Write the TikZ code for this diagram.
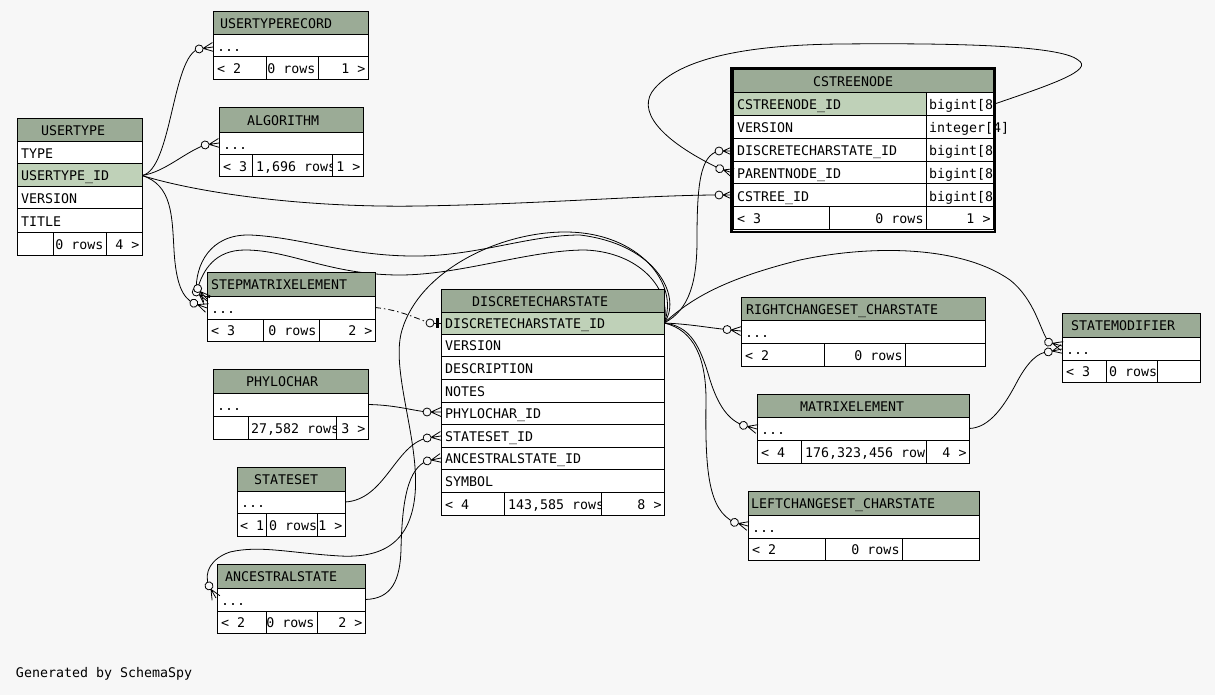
\documentclass[tikz,border=0pt]{standalone}
\usepackage{fontspec}
\setmainfont{DejaVu Sans Mono}
\definecolor{bgc}{HTML}{F7F7F7}
\definecolor{hdr}{HTML}{9BAB96}
\definecolor{pkc}{HTML}{BFD1B8}
\pgfdeclarelayer{bgl}
\pgfdeclarelayer{conn}
\pgfsetlayers{bgl,conn,main}
\tikzset{
  cellbox/.style={draw=black, line width=1pt, inner sep=0pt, outer sep=0pt},
  celltext/.style={inner sep=0pt, outer sep=0pt, font=\fontsize{13.3}{16}\selectfont},
  link/.style={line width=0.8pt, black},
  implied/.style={line width=0.8pt, black, dash pattern=on 6pt off 3pt on 1.5pt off 3pt},
}
\newcommand\mkcell[6]{\node[cellbox, fill=#6, minimum width={(#4-#2)*1pt}, minimum height={(#5-#3)*1pt}, anchor=north west] (#1) at (#2,#3) {};}
\newcommand\tabL[3][4]{\begin{scope}\clip (#2.south west) rectangle (#2.north east);\node[celltext, anchor=base west] (#2-tx) at ([xshift=#1pt,yshift=-5.5pt]#2.west) {#3};\end{scope}}
\newcommand\tabR[2]{\begin{scope}\clip (#1.south west) rectangle (#1.north east);\node[celltext, anchor=base east] (#1-tx) at ([xshift=-2.5pt,yshift=-5.5pt]#1.east) {#2};\end{scope}}
\newcommand\crow[3]{\begin{scope}[shift={(#2)}, rotate=#3]
  \draw[line width=0.8pt] (-10,0) -- (0,-4.5) (-10,0) -- (0,0) (-10,0) -- (0,4.5);
  \draw[line width=0.8pt, fill=bgc] (-14,0) circle (4pt);
  \coordinate (#1) at (-14,0);
\end{scope}}
\newcommand\onez[3]{\begin{scope}[shift={(#2)}, rotate=#3]
  \draw[line width=0.8pt] (-7,0) -- (0,0);
  \draw[line width=2.5pt] (-3.5,-5) -- (-3.5,5);
  \draw[line width=0.8pt, fill=bgc] (-11,0) circle (4pt);
  \coordinate (#1) at (-11,0);
\end{scope}}
\begin{document}
\begin{tikzpicture}[x=1pt,y=-1pt]
\useasboundingbox (0,0) rectangle (1215,695);
\begin{pgfonlayer}{bgl}
\fill[bgc] (0,0) rectangle (1215,695);
\end{pgfonlayer}

% USERTYPERECORD
\mkcell{utr-h}{213}{12}{368}{35}{hdr}
\mkcell{utr-r}{213}{35}{368}{57}{white}
\mkcell{utr-f1}{213}{57}{266}{80}{white}
\mkcell{utr-f2}{266}{57}{318}{80}{white}
\mkcell{utr-f3}{318}{57}{368}{80}{white}
\tabL[7]{utr-h}{USERTYPERECORD}
\tabL{utr-r}{...}
\tabL{utr-f1}{< 2}
\tabR{utr-f2}{0 rows}
\tabR{utr-f3}{1 >}

% ALGORITHM
\mkcell{alg-h}{219}{108}{363}{133}{hdr}
\mkcell{alg-r}{219}{133}{363}{155}{white}
\mkcell{alg-f1}{219}{155}{252}{177}{white}
\mkcell{alg-f2}{252}{155}{332}{177}{white}
\mkcell{alg-f3}{332}{155}{363}{177}{white}
\tabL[28]{alg-h}{ALGORITHM}
\tabL{alg-r}{...}
\tabL{alg-f1}{< 3}
\tabL{alg-f2}{1,696 rows}
\tabR{alg-f3}{1 >}

% USERTYPE
\mkcell{ut-h}{17}{119}{142}{142}{hdr}
\mkcell{ut-ty}{17}{142}{142}{164}{white}
\mkcell{ut-id}{17}{164}{142}{187}{pkc}
\mkcell{ut-ve}{17}{187}{142}{209}{white}
\mkcell{ut-ti}{17}{209}{142}{232}{white}
\mkcell{ut-f1}{17}{232}{53}{255}{white}
\mkcell{ut-f2}{53}{232}{106}{255}{white}
\mkcell{ut-f3}{106}{232}{142}{255}{white}
\tabL[24]{ut-h}{USERTYPE}
\tabL{ut-ty}{TYPE}
\tabL{ut-id}{USERTYPE\_ID}
\tabL{ut-ve}{VERSION}
\tabL{ut-ti}{TITLE}
\tabR{ut-f2}{0 rows}
\tabR{ut-f3}{4 >}

% CSTREENODE
\mkcell{cst-h}{733}{70}{993}{93}{hdr}
\mkcell{cst-id}{733}{93}{926}{116}{pkc}
\mkcell{cst-idty}{926}{93}{993}{116}{white}
\mkcell{cst-ve}{733}{116}{926}{139}{white}
\mkcell{cst-vety}{926}{116}{993}{139}{white}
\mkcell{cst-dc}{733}{139}{926}{162}{white}
\mkcell{cst-dcty}{926}{139}{993}{162}{white}
\mkcell{cst-pn}{733}{162}{926}{184}{white}
\mkcell{cst-pnty}{926}{162}{993}{184}{white}
\mkcell{cst-cs}{733}{184}{926}{207}{white}
\mkcell{cst-csty}{926}{184}{993}{207}{white}
\mkcell{cst-f1}{733}{207}{829}{229}{white}
\mkcell{cst-f2}{829}{207}{926}{229}{white}
\mkcell{cst-f3}{926}{207}{993}{229}{white}
\tabL[80]{cst-h}{CSTREENODE}
\tabL{cst-id}{CSTREENODE\_ID}
\tabL[3]{cst-idty}{bigint[8]}
\tabL{cst-ve}{VERSION}
\node[celltext, anchor=base west] (cst-vety-tx) at ([xshift=3pt,yshift=-5.5pt]cst-vety.west) {integer[4]};
\tabL{cst-dc}{DISCRETECHARSTATE\_ID}
\tabL[3]{cst-dcty}{bigint[8]}
\tabL{cst-pn}{PARENTNODE\_ID}
\tabL[3]{cst-pnty}{bigint[8]}
\tabL{cst-cs}{CSTREE\_ID}
\tabL[3]{cst-csty}{bigint[8]}
\tabL{cst-f1}{< 3}
\tabR{cst-f2}{0 rows}
\tabR{cst-f3}{1 >}
\draw[line width=2.5pt] (731.5,68.5) rectangle (995,232);

% STEPMATRIXELEMENT
\mkcell{sme-h}{207}{272}{375}{296}{hdr}
\mkcell{sme-r}{207}{296}{375}{319}{white}
\mkcell{sme-f1}{207}{319}{263}{341}{white}
\mkcell{sme-f2}{263}{319}{319}{341}{white}
\mkcell{sme-f3}{319}{319}{375}{341}{white}
\tabL[4]{sme-h}{STEPMATRIXELEMENT}
\tabL{sme-r}{...}
\tabL{sme-f1}{< 3}
\tabR{sme-f2}{0 rows}
\tabR{sme-f3}{2 >}

% DISCRETECHARSTATE
\mkcell{dcs-h}{441}{289}{664}{312}{hdr}
\mkcell{dcs-id}{441}{312}{664}{334}{pkc}
\mkcell{dcs-ve}{441}{334}{664}{356}{white}
\mkcell{dcs-de}{441}{356}{664}{379}{white}
\mkcell{dcs-no}{441}{379}{664}{402}{white}
\mkcell{dcs-pc}{441}{402}{664}{424}{white}
\mkcell{dcs-ss}{441}{424}{664}{447}{white}
\mkcell{dcs-an}{441}{447}{664}{469}{white}
\mkcell{dcs-sy}{441}{469}{664}{492}{white}
\mkcell{dcs-f1}{441}{492}{504}{515}{white}
\mkcell{dcs-f2}{504}{492}{601}{515}{white}
\mkcell{dcs-f3}{601}{492}{664}{515}{white}
\tabL[31]{dcs-h}{DISCRETECHARSTATE}
\tabL{dcs-id}{DISCRETECHARSTATE\_ID}
\tabL{dcs-ve}{VERSION}
\tabL{dcs-de}{DESCRIPTION}
\tabL{dcs-no}{NOTES}
\tabL{dcs-pc}{PHYLOCHAR\_ID}
\tabL{dcs-ss}{STATESET\_ID}
\tabL{dcs-an}{ANCESTRALSTATE\_ID}
\tabL{dcs-sy}{SYMBOL}
\tabL{dcs-f1}{< 4}
\tabL{dcs-f2}{143,585 rows}
\tabR{dcs-f3}{8 >}

% PHYLOCHAR
\mkcell{pc-h}{213}{369}{368}{393}{hdr}
\mkcell{pc-r}{213}{393}{368}{416}{white}
\mkcell{pc-f1}{213}{416}{248}{439}{white}
\mkcell{pc-f2}{248}{416}{336}{439}{white}
\mkcell{pc-f3}{336}{416}{368}{439}{white}
\tabL[33]{pc-h}{PHYLOCHAR}
\tabL{pc-r}{...}
\tabL[3]{pc-f2}{27,582 rows}
\tabR{pc-f3}{3 >}

% STATESET
\mkcell{ss-h}{237}{467}{345}{491}{hdr}
\mkcell{ss-r}{237}{491}{345}{513}{white}
\mkcell{ss-f1}{237}{513}{266}{536}{white}
\mkcell{ss-f2}{266}{513}{317}{536}{white}
\mkcell{ss-f3}{317}{513}{345}{536}{white}
\tabL[17]{ss-h}{STATESET}
\tabL{ss-r}{...}
\tabL[3]{ss-f1}{< 1}
\tabL[3]{ss-f2}{0 rows}
\tabR{ss-f3}{1 >}

% ANCESTRALSTATE
\mkcell{anc-h}{217}{564}{365}{588}{hdr}
\mkcell{anc-r}{217}{588}{365}{611}{white}
\mkcell{anc-f1}{217}{611}{266}{633}{white}
\mkcell{anc-f2}{266}{611}{317}{633}{white}
\mkcell{anc-f3}{317}{611}{365}{633}{white}
\tabL[8]{anc-h}{ANCESTRALSTATE}
\tabL{anc-r}{...}
\tabL{anc-f1}{< 2}
\tabR{anc-f2}{0 rows}
\tabR{anc-f3}{2 >}

% RIGHTCHANGESET_CHARSTATE
\mkcell{rcs-h}{741}{297}{985}{320}{hdr}
\mkcell{rcs-r}{741}{320}{985}{343}{white}
\mkcell{rcs-f1}{741}{343}{824}{366}{white}
\mkcell{rcs-f2}{824}{343}{905}{366}{white}
\mkcell{rcs-f3}{905}{343}{985}{366}{white}
\tabL[5]{rcs-h}{RIGHTCHANGESET\_CHARSTATE}
\tabL{rcs-r}{...}
\tabL{rcs-f1}{< 2}
\tabR{rcs-f2}{0 rows}

% MATRIXELEMENT
\mkcell{me-h}{757}{394}{969}{417}{hdr}
\mkcell{me-r}{757}{417}{969}{440}{white}
\mkcell{me-f1}{757}{440}{801}{463}{white}
\mkcell{me-f2}{801}{440}{926}{463}{white}
\mkcell{me-f3}{926}{440}{969}{463}{white}
\tabL[43]{me-h}{MATRIXELEMENT}
\tabL{me-r}{...}
\tabL{me-f1}{< 4}
\tabL{me-f2}{176,323,456 rows}
\tabR{me-f3}{4 >}

% LEFTCHANGESET_CHARSTATE
\mkcell{lcs-h}{748}{491}{979}{515}{hdr}
\mkcell{lcs-r}{748}{515}{979}{538}{white}
\mkcell{lcs-f1}{748}{538}{825}{560}{white}
\mkcell{lcs-f2}{825}{538}{902}{560}{white}
\mkcell{lcs-f3}{902}{538}{979}{560}{white}
\tabL[3]{lcs-h}{LEFTCHANGESET\_CHARSTATE}
\tabL{lcs-r}{...}
\tabL{lcs-f1}{< 2}
\tabR{lcs-f2}{0 rows}

% STATEMODIFIER
\mkcell{sm-h}{1062}{313}{1200}{337}{hdr}
\mkcell{sm-r}{1062}{337}{1200}{360}{white}
\mkcell{sm-f1}{1062}{360}{1106}{382}{white}
\mkcell{sm-f2}{1106}{360}{1157}{382}{white}
\mkcell{sm-f3}{1157}{360}{1200}{382}{white}
\tabL[9]{sm-h}{STATEMODIFIER}
\tabL{sm-r}{...}
\tabL{sm-f1}{< 3}
\tabL[3]{sm-f2}{0 rows}

\node[celltext, anchor=base west] (gen) at (16,677) {Generated by SchemaSpy};

% crow's feet / endings
\crow{k-utr}{[yshift=-1pt]utr-r.west}{8}
\crow{k-alg}{[yshift=1pt]alg-r.west}{8}
\crow{k-cstc}{[yshift=0.5pt]cst-cs.west}{0}
\crow{k-cstd}{[yshift=-0.5pt]cst-dc.west}{0}
\crow{k-cstp}{cst-pn.west}{-18}
\crow{k-sme1}{[yshift=-0.5pt]sme-r.west}{-20}
\crow{k-sme2}{[yshift=6.5pt]sme-r.west}{-40}
\crow{k-sme3}{[yshift=8.5pt]sme-r.west}{-48}
\crow{k-anc}{[xshift=-1pt,yshift=1.5pt]anc-r.west}{-60}
\crow{k-dpc}{[yshift=1pt]dcs-pc.west}{0}
\crow{k-dss}{[yshift=-0.5pt]dcs-ss.west}{8}
\crow{k-dan}{dcs-an.west}{12}
\onez{k-did}{dcs-id.west}{0}
\crow{k-rcs}{[yshift=0.5pt]rcs-r.west}{-6}
\crow{k-me}{[yshift=-0.5pt]me-r.west}{-15}
\crow{k-lcs}{[yshift=0.5pt]lcs-r.west}{-15}
\crow{k-sm1}{[yshift=2.5pt]sm-r.west}{-16}
\crow{k-sm2}{[yshift=-0.5pt]sm-r.west}{12}

\begin{pgfonlayer}{conn}
% from USERTYPE
\draw[link] (ut-id.east) .. controls (172,170) and (172,55) .. (k-utr);
\draw[link] (ut-id.east) .. controls (165,172) and (185,152) .. (k-alg);
\draw[link] (ut-id.east) .. controls (195,192) and (300,208) .. (420,206) .. controls (540,204) and (650,195) .. (k-cstc);
\draw[link] (ut-id.east) .. controls (172,185) and (172,215) .. (174,250) .. controls (176,285) and (183,298) .. (k-sme1);
% from DISCRETECHARSTATE
\draw[link] (dcs-id.east) .. controls (682,300) and (660,245) .. (580,235) .. controls (530,235) and (480,255) .. (420,256) .. controls (350,257) and (300,237) .. (250,235) .. controls (210,234) and (195,265) .. (k-sme2);
\draw[link] (dcs-id.east) .. controls (672,290) and (640,252) .. (585,250) .. controls (530,250) and (460,275) .. (400,275) .. controls (330,275) and (290,250) .. (245,250) .. controls (215,250) and (203,270) .. (k-sme3);
\draw[link] (dcs-id.east) .. controls (680,285) and (640,232) .. (565,232) .. controls (500,232) and (420,270) .. (402,330) .. controls (390,370) and (420,440) .. (415,495) .. controls (410,545) and (380,558) .. (340,556) .. controls (290,553) and (260,545) .. (230,552) .. controls (212,558) and (203,572) .. (k-anc);
\draw[link] (dcs-id.east) .. controls (690,310) and (697,280) .. (697,240) .. controls (697,185) and (700,155) .. (k-cstd);
\draw[link] (dcs-id.east) .. controls (690,324) and (710,328) .. (k-rcs);
\draw[link] (dcs-id.east) .. controls (690,326) and (700,345) .. (710,380) .. controls (718,405) and (728,420) .. (k-me);
\draw[link] (dcs-id.east) .. controls (695,330) and (706,360) .. (706,400) .. controls (705,470) and (708,510) .. (k-lcs);
\draw[link] (dcs-id.east) .. controls (690,300) and (720,280) .. (800,260) .. controls (870,245) and (960,245) .. (1010,280) .. controls (1035,300) and (1040,330) .. (k-sm1);
% others
\draw[link] (anc-r.east) .. controls (392,599) and (400,580) .. (401,550) .. controls (402,500) and (408,468) .. (k-dan);
\draw[link] (ss-r.east) .. controls (385,500) and (395,445) .. (k-dss);
\draw[link] (pc-r.east) .. controls (395,405) and (410,410) .. (k-dpc);
\draw[implied] (sme-r.east) .. controls (400,310) and (415,318) .. (k-did);
\draw[link] (cst-idty.east) .. controls (1050,85) and (1095,70) .. (1078,60) .. controls (1060,45) and (950,43) .. (840,44) .. controls (740,45) and (680,60) .. (655,88) .. controls (635,110) and (660,140) .. (k-cstp);
\draw[link] (me-r.east) .. controls (990,428) and (1005,405) .. (1018,380) .. controls (1028,362) and (1038,352) .. (k-sm2);
\end{pgfonlayer}
\end{tikzpicture}
\end{document}
